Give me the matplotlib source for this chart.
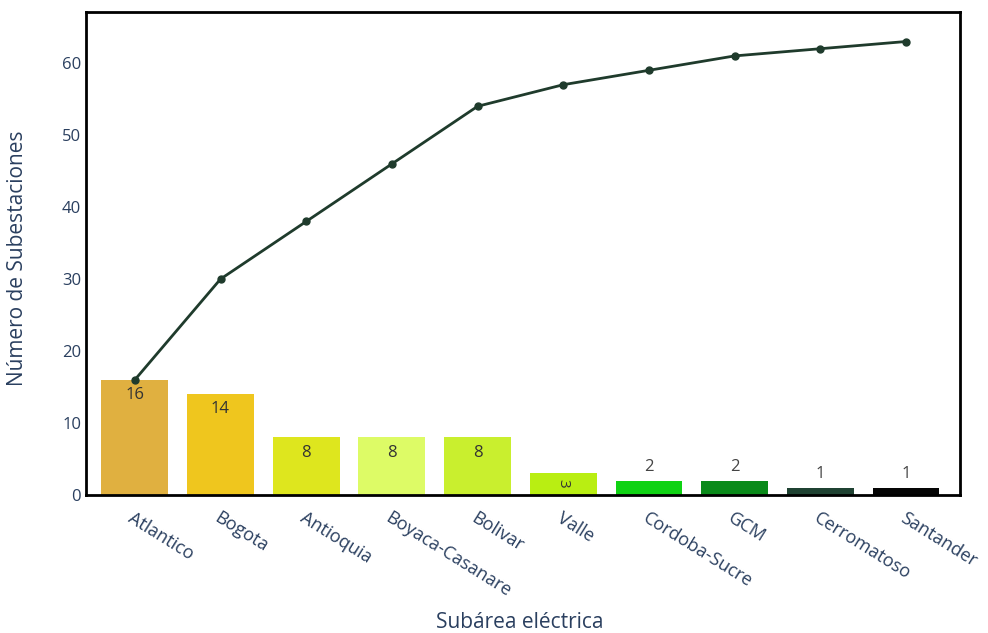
import matplotlib
matplotlib.use("Agg")
import matplotlib.pyplot as plt
import numpy as np

categories = ["Atlantico", "Bogota", "Antioquia", "Boyaca-Casanare", "Bolivar",
              "Valle", "Cordoba-Sucre", "GCM", "Cerromatoso", "Santander"]
counts = [16, 14, 8, 8, 8, 3, 2, 2, 1, 1]
cumulative = [16, 30, 38, 46, 54, 57, 59, 61, 62, 63]
bar_colors = ["#E0B040", "#EFC61E", "#DEE61E", "#DDFB66", "#C9EF2E",
              "#B9EE12", "#0FD213", "#0A8A1A", "#1F4232", "#050505"]
yticks = [0, 10, 20, 30, 40, 50, 60]

plt.rcParams['font.family'] = ['Open Sans', 'DejaVu Sans']
fig = plt.figure(figsize=(9.88, 6.33), dpi=100)
ax = fig.add_axes([86/988, 1-495/633, (960-86)/988, (495-12)/633])

x = np.arange(len(categories))
bars = ax.bar(x, counts, width=0.78, color=bar_colors, zorder=2)
ax.plot(x, cumulative, color="#1F3B2C", lw=2, marker="o", ms=5, zorder=3)

for xi, v in zip(x, counts):
    if v >= 8:
        ax.text(xi, v - 1.0, str(v), ha="center", va="top", fontsize=12, color="#333333", zorder=4)
    elif v == 3:
        ax.text(xi, v * 0.55, str(v), ha="center", va="center", fontsize=11, color="#333333",
                rotation=-90, zorder=4)
    else:
        ax.text(xi, v + 0.8, str(v), ha="center", va="bottom", fontsize=12, color="#444444", zorder=4)

ax.set_xlim(-0.57, 9.63)
ax.set_ylim(0, 67.1)
ax.set_yticks(yticks)
ax.set_xticks(x)
ax.set_xticklabels(categories, rotation=-32, ha="left", rotation_mode="anchor",
                   fontsize=13, color="#2A3F5F")
ax.tick_params(axis="both", length=0, colors="#2A3F5F", labelsize=12)
ax.tick_params(axis="x", pad=10, labelsize=13)
for s in ax.spines.values():
    s.set_linewidth(2)
    s.set_color("black")

fig.text(18/988, 1-258/633, "Número de Subestaciones", rotation=90, ha="center", va="center",
         fontsize=15, color="#2A3F5F")
fig.text(520/988, 1-622/633, "Subárea eléctrica", ha="center", va="center",
         fontsize=15, color="#2A3F5F")

fig.savefig("out.png", dpi=100)
